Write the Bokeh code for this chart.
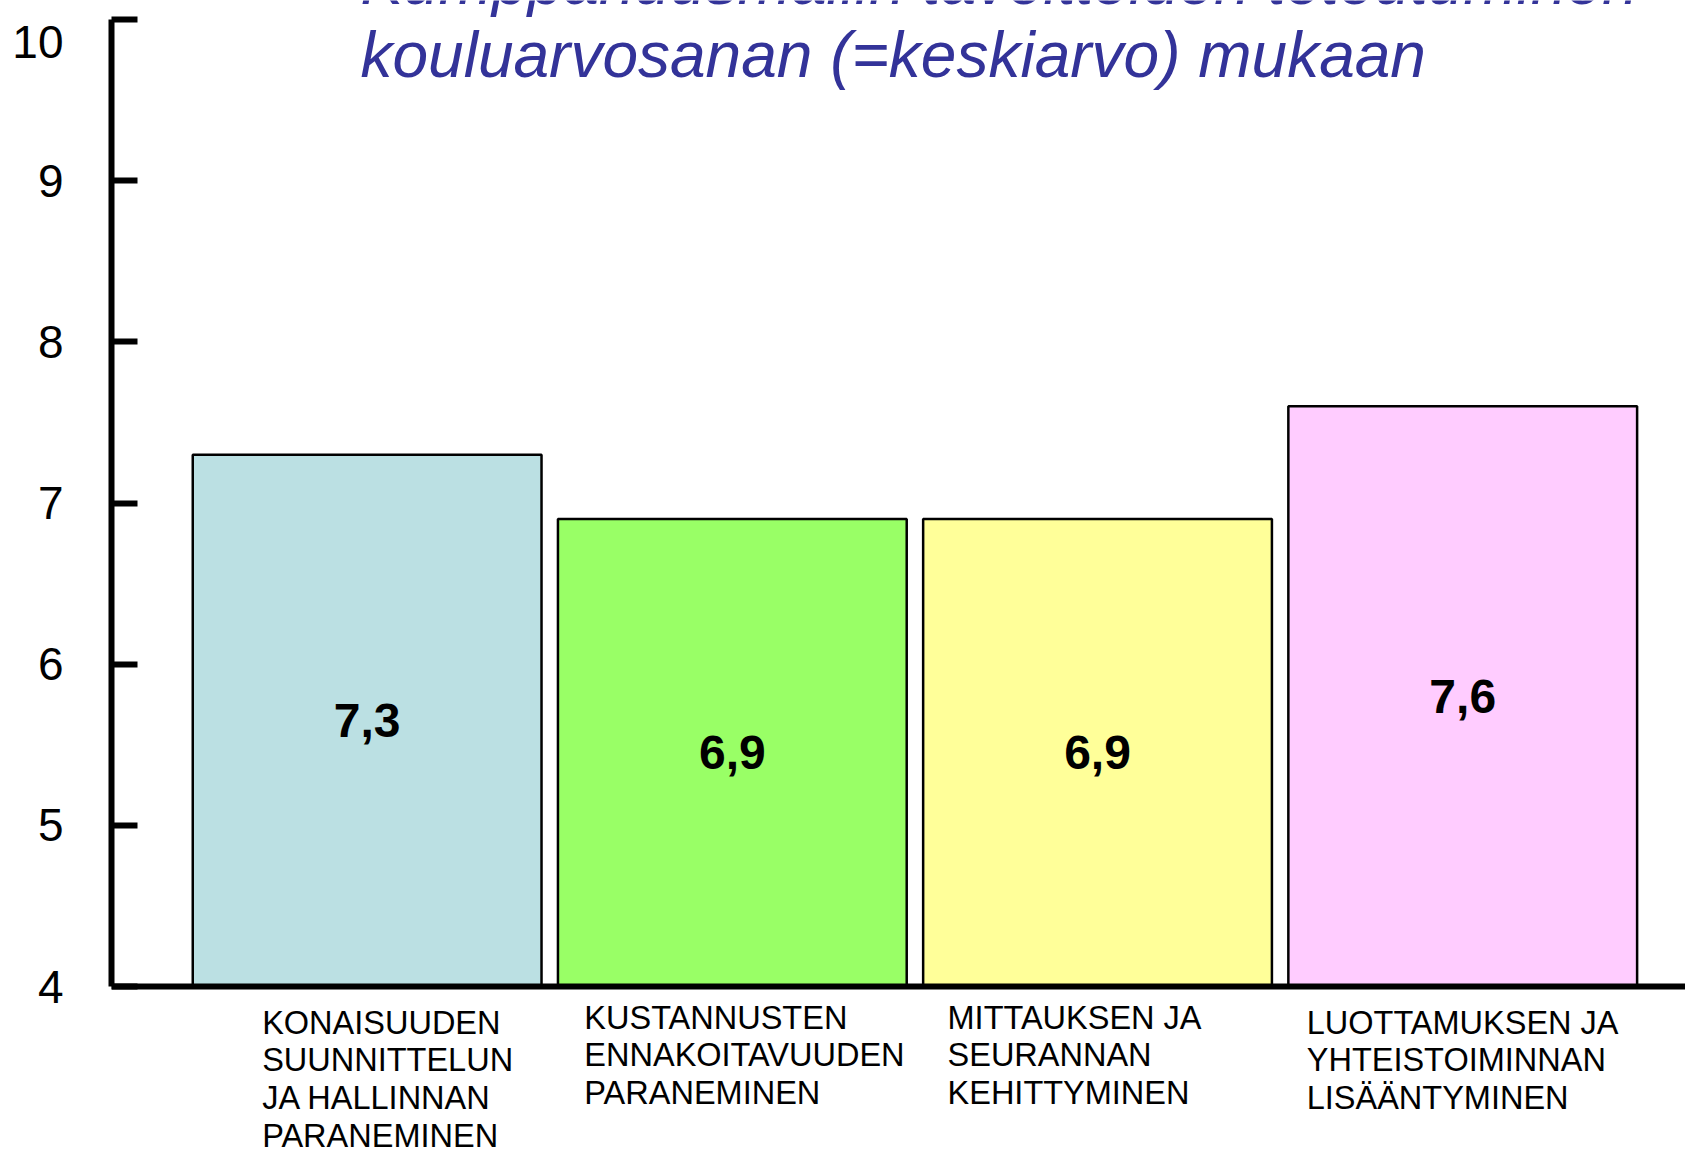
from bokeh.plotting import figure
from bokeh.models import (ColumnDataSource, LabelSet, Label, Range1d, LinearAxis,
                          FixedTicker)
from bokeh.core.properties import value
from bokeh.embed import file_html
from bokeh.resources import INLINE

# ---- data ----
categories = [
    "KONAISUUDEN\nSUUNNITTELUN\nJA HALLINNAN\nPARANEMINEN",
    "KUSTANNUSTEN\nENNAKOITAVUUDEN\nPARANEMINEN",
    "MITTAUKSEN JA\nSEURANNAN\nKEHITTYMINEN",
    "LUOTTAMUKSEN JA\nYHTEISTOIMINNAN\nLISÄÄNTYMINEN",
]
values = [7.3, 6.9, 6.9, 7.6]
value_labels = ["7,3", "6,9", "6,9", "7,6"]
y_ticks = [4, 5, 6, 7, 8, 9, 10]
title_lines = ["Kumppanuusmallin tavoitteiden toteutuminen",
               "kouluarvosanan (=keskiarvo) mukaan"]

# ---- styles ----
bar_colors = ["#BBE0E3", "#99FF66", "#FFFF99", "#FFCCFF"]
cat_x_offsets = [-105, -148, -150, -156]
cat_y_offsets = [-18, -13, -13, -18]

W, H = 1685, 1149
base = 4
top_px = 19          # screen y of value 10
base_px = 986        # screen y of value 4
per_unit = (base_px - top_px) / 6.0
y_end = 10 + top_px / per_unit
y_start = base - (H - base_px) / per_unit

p = figure(width=W, height=H, output_backend="svg", toolbar_location=None,
           x_range=Range1d(-0.70, 3.61), y_range=Range1d(y_start, y_end),
           x_axis_type=None, y_axis_type=None,
           min_border_left=111, min_border_right=0, min_border_top=0,
           min_border_bottom=0)
p.outline_line_color = None
p.xgrid.visible = False
p.ygrid.visible = False
p.background_fill_color = "white"
p.border_fill_color = "white"

xs = list(range(len(categories)))
src = ColumnDataSource(dict(
    x=xs, top=values, color=bar_colors,
    mid=[(base + v) / 2 for v in values], lab=value_labels))

p.vbar(x="x", top="top", bottom=base, width=0.955, fill_color="color",
       line_color="black", line_width=2.5, source=src)

# y axis
yax = LinearAxis(ticker=FixedTicker(ticks=y_ticks), bounds=(4, 10))
yax.axis_line_width = 6
yax.axis_line_color = "black"
yax.major_tick_in = 26
yax.major_tick_out = 0
yax.major_tick_line_width = 6
yax.minor_tick_line_color = None
yax.major_label_text_font = "Liberation Sans"
yax.major_label_text_font_size = "46px"
yax.major_label_text_color = "black"
yax.major_label_text_line_height = 0.3
yax.major_label_standoff = 48
yax.major_label_overrides = {10: "\n10"}
p.add_layout(yax, "left")

# x axis (baseline at value 4)
xax = LinearAxis(ticker=FixedTicker(ticks=[]), fixed_location=base)
xax.axis_line_width = 6
xax.axis_line_color = "black"
xax.major_tick_line_color = None
xax.minor_tick_line_color = None
xax.major_label_text_color = None
p.add_layout(xax, "below")

# value labels
p.add_layout(LabelSet(x="x", y="mid", text="lab", source=src,
                      text_align="center", text_baseline="middle",
                      text_font=value("Liberation Sans"), text_font_style="bold",
                      text_font_size="48px", text_color="black"))

# category labels (below the baseline)
for i, cat in enumerate(categories):
    p.add_layout(Label(x=xs[i], y=base, x_offset=cat_x_offsets[i],
                       y_offset=cat_y_offsets[i], text=cat,
                       text_align="left", text_baseline="top",
                       text_font="Liberation Sans", text_font_size="32.5px",
                       text_color="black", text_line_height=1.047))

# title
frame_h = H
for line, yy in zip(title_lines, [frame_h + 19, frame_h - 54]):
    p.add_layout(Label(x=249, y=yy, x_units="screen", y_units="screen",
                       text=line, text_font="Liberation Sans",
                       text_font_style="italic", text_font_size="64px",
                       text_color="#333399", text_baseline="alphabetic",
                       text_align="left"))

open("out.html", "w").write(file_html(p, INLINE))
